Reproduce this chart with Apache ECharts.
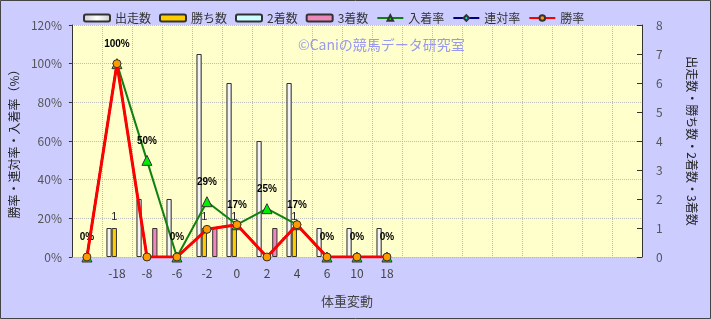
<!DOCTYPE html>
<html><head><meta charset="utf-8">
<script src="https://cdn.jsdelivr.net/npm/echarts@6/dist/echarts.min.js"></script>
<style>html,body{margin:0;padding:0;background:#CCCCFF;}#c{width:711px;height:319px;}</style>
</head><body><div id="c"></div>
<script>
const categories = ['', '-18', '-8', '-6', '-2', '0', '2', '4', '6', '10', '18', '', '', '', '', '', '', '', ''];
const runs   = [0, 1, 2, 2, 7, 6, 4, 6, 1, 1, 1];
const wins   = [0, 1, 0, 0, 1, 1, 0, 1, 0, 0, 0];
const second = [0, 0, 0, 0, 0, 0, 0, 0, 0, 0, 0];
const third  = [0, 0, 1, 0, 1, 0, 1, 0, 0, 0, 0];
const placeRate = [0, 100, 50, 0, 28.6, 16.7, 25, 16.7, 0, 0, 0];
const quinellaRate = [0, 100, 0, 0, 14.3, 16.7, 0, 16.7, 0, 0, 0];
const winRate = [0, 100, 0, 0, 14.3, 16.7, 0, 16.7, 0, 0, 0];
const leftTicks = ['0%', '20%', '40%', '60%', '80%', '100%', '120%'];

const pad = a => a.concat(new Array(categories.length - a.length).fill('-'));
const padBar = a => pad(a.map(v => v > 0 ? v : '-'));
const font = '"Noto Sans CJK JP", sans-serif';
const chart = echarts.init(document.getElementById('c'));
const barBase = {type: 'bar', yAxisIndex: 1, barGap: '0%', barCategoryGap: '30%'};
chart.setOption({
  backgroundColor: '#CCCCFF',
  animation: false,
  textStyle: {fontFamily: font},
  legend: {
    left: 78, top: 7, itemWidth: 26, itemHeight: 7, itemGap: 8,
    textStyle: {fontSize: 12, color: '#333', fontFamily: font},
    data: ['出走数', '勝ち数', '2着数', '3着数', '入着率', '連対率', '勝率']
  },
  grid: {left: 69, right: 69, top: 25, bottom: 62, show: true, backgroundColor: '#FFFFCC', borderWidth: 0},
  xAxis: {
    type: 'category', data: categories,
    name: '体重変動', nameLocation: 'middle', nameGap: 38,
    nameTextStyle: {fontSize: 13, color: '#444', padding: [0, 20, 0, 0]},
    axisLine: {show: false}, axisTick: {show: false},
    axisLabel: {color: '#444', fontSize: 12, interval: 0, margin: 10},
    splitLine: {show: true, interval: 0, lineStyle: {color: '#bbb', type: 'dotted'}}
  },
  yAxis: [{
    type: 'value', min: 0, max: 120, interval: 20,
    name: '勝率・連対率・入着率（%）', nameLocation: 'middle', nameGap: 41, nameRotate: 90,
    nameTextStyle: {fontSize: 12, color: '#222'},
    axisLine: {show: true, lineStyle: {color: '#333'}},
    axisTick: {show: true, inside: false, length: 3, lineStyle: {color: '#333'}},
    axisLabel: {color: '#555', fontSize: 12, margin: 10, formatter: v => leftTicks[v / 20]},
    splitLine: {show: true, lineStyle: {color: '#bbb', type: 'dotted'}}
  }, {
    type: 'value', min: 0, max: 8, interval: 1, position: 'right',
    name: '出走数・勝ち数・2着数・3着数', nameLocation: 'middle', nameGap: 44, nameRotate: -90,
    nameTextStyle: {fontSize: 12, color: '#222'},
    axisLine: {show: true, lineStyle: {color: '#333'}},
    axisTick: {show: true, inside: true, length: 5, lineStyle: {color: '#333'}},
    axisLabel: {color: '#555', fontSize: 12, margin: 14},
    splitLine: {show: false}
  }],
  series: [
    Object.assign({}, barBase, {name: '出走数', data: padBar(runs), z: 2,
      itemStyle: {color: new echarts.graphic.LinearGradient(0, 0, 1, 0, [{offset: 0, color: '#ccc'}, {offset: 0.5, color: '#fff'}, {offset: 1, color: '#ccc'}]), borderColor: '#333', borderWidth: 1}}),
    Object.assign({}, barBase, {name: '勝ち数', data: padBar(wins), z: 2,
      itemStyle: {color: '#FFCC00', borderColor: '#333', borderWidth: 1},
      label: {show: true, position: 'top', distance: 6, fontSize: 11, color: '#222', fontFamily: 'Arial',
        formatter: p => p.value > 0 ? String(p.value) : ''}}),
    Object.assign({}, barBase, {name: '2着数', data: padBar(second), z: 2,
      itemStyle: {color: '#CCFFFF', borderColor: '#333', borderWidth: 1}}),
    Object.assign({}, barBase, {name: '3着数', data: padBar(third), z: 2,
      itemStyle: {color: '#EE88BB', borderColor: '#333', borderWidth: 1}}),
    {name: '入着率', type: 'line', yAxisIndex: 0, data: pad(placeRate), z: 5,
      symbol: 'triangle', symbolSize: 10,
      lineStyle: {color: '#108010', width: 2},
      itemStyle: {color: '#00EE00', borderColor: '#333', borderWidth: 1},
      label: {show: true, position: 'top', distance: 9, fontSize: 10, fontWeight: 'bold', color: '#000', fontFamily: 'Arial',
        formatter: p => Math.round(p.value) + '%'}},
    {name: '連対率', type: 'line', yAxisIndex: 0, data: pad(quinellaRate), z: 6,
      symbol: 'diamond', symbolSize: 8,
      lineStyle: {color: '#000080', width: 2},
      itemStyle: {color: '#00EEEE', borderColor: '#333', borderWidth: 1}},
    {name: '勝率', type: 'line', yAxisIndex: 0, data: pad(winRate), z: 7,
      symbol: 'circle', symbolSize: 8,
      lineStyle: {color: '#FF0000', width: 3},
      itemStyle: {color: '#FF9900', borderColor: '#333', borderWidth: 1}}
  ],
  graphic: [
    {type: 'text', left: 298, top: 38, z: 10, style: {text: '©Caniの競馬データ研究室', fontSize: 14, fill: '#9999EE', fontFamily: font}},
    {type: 'rect', shape: {x: 0.5, y: 0.5, width: 710, height: 318}, style: {fill: 'none', stroke: '#444', lineWidth: 1}, z: 20}
  ]
});
</script></body></html>
